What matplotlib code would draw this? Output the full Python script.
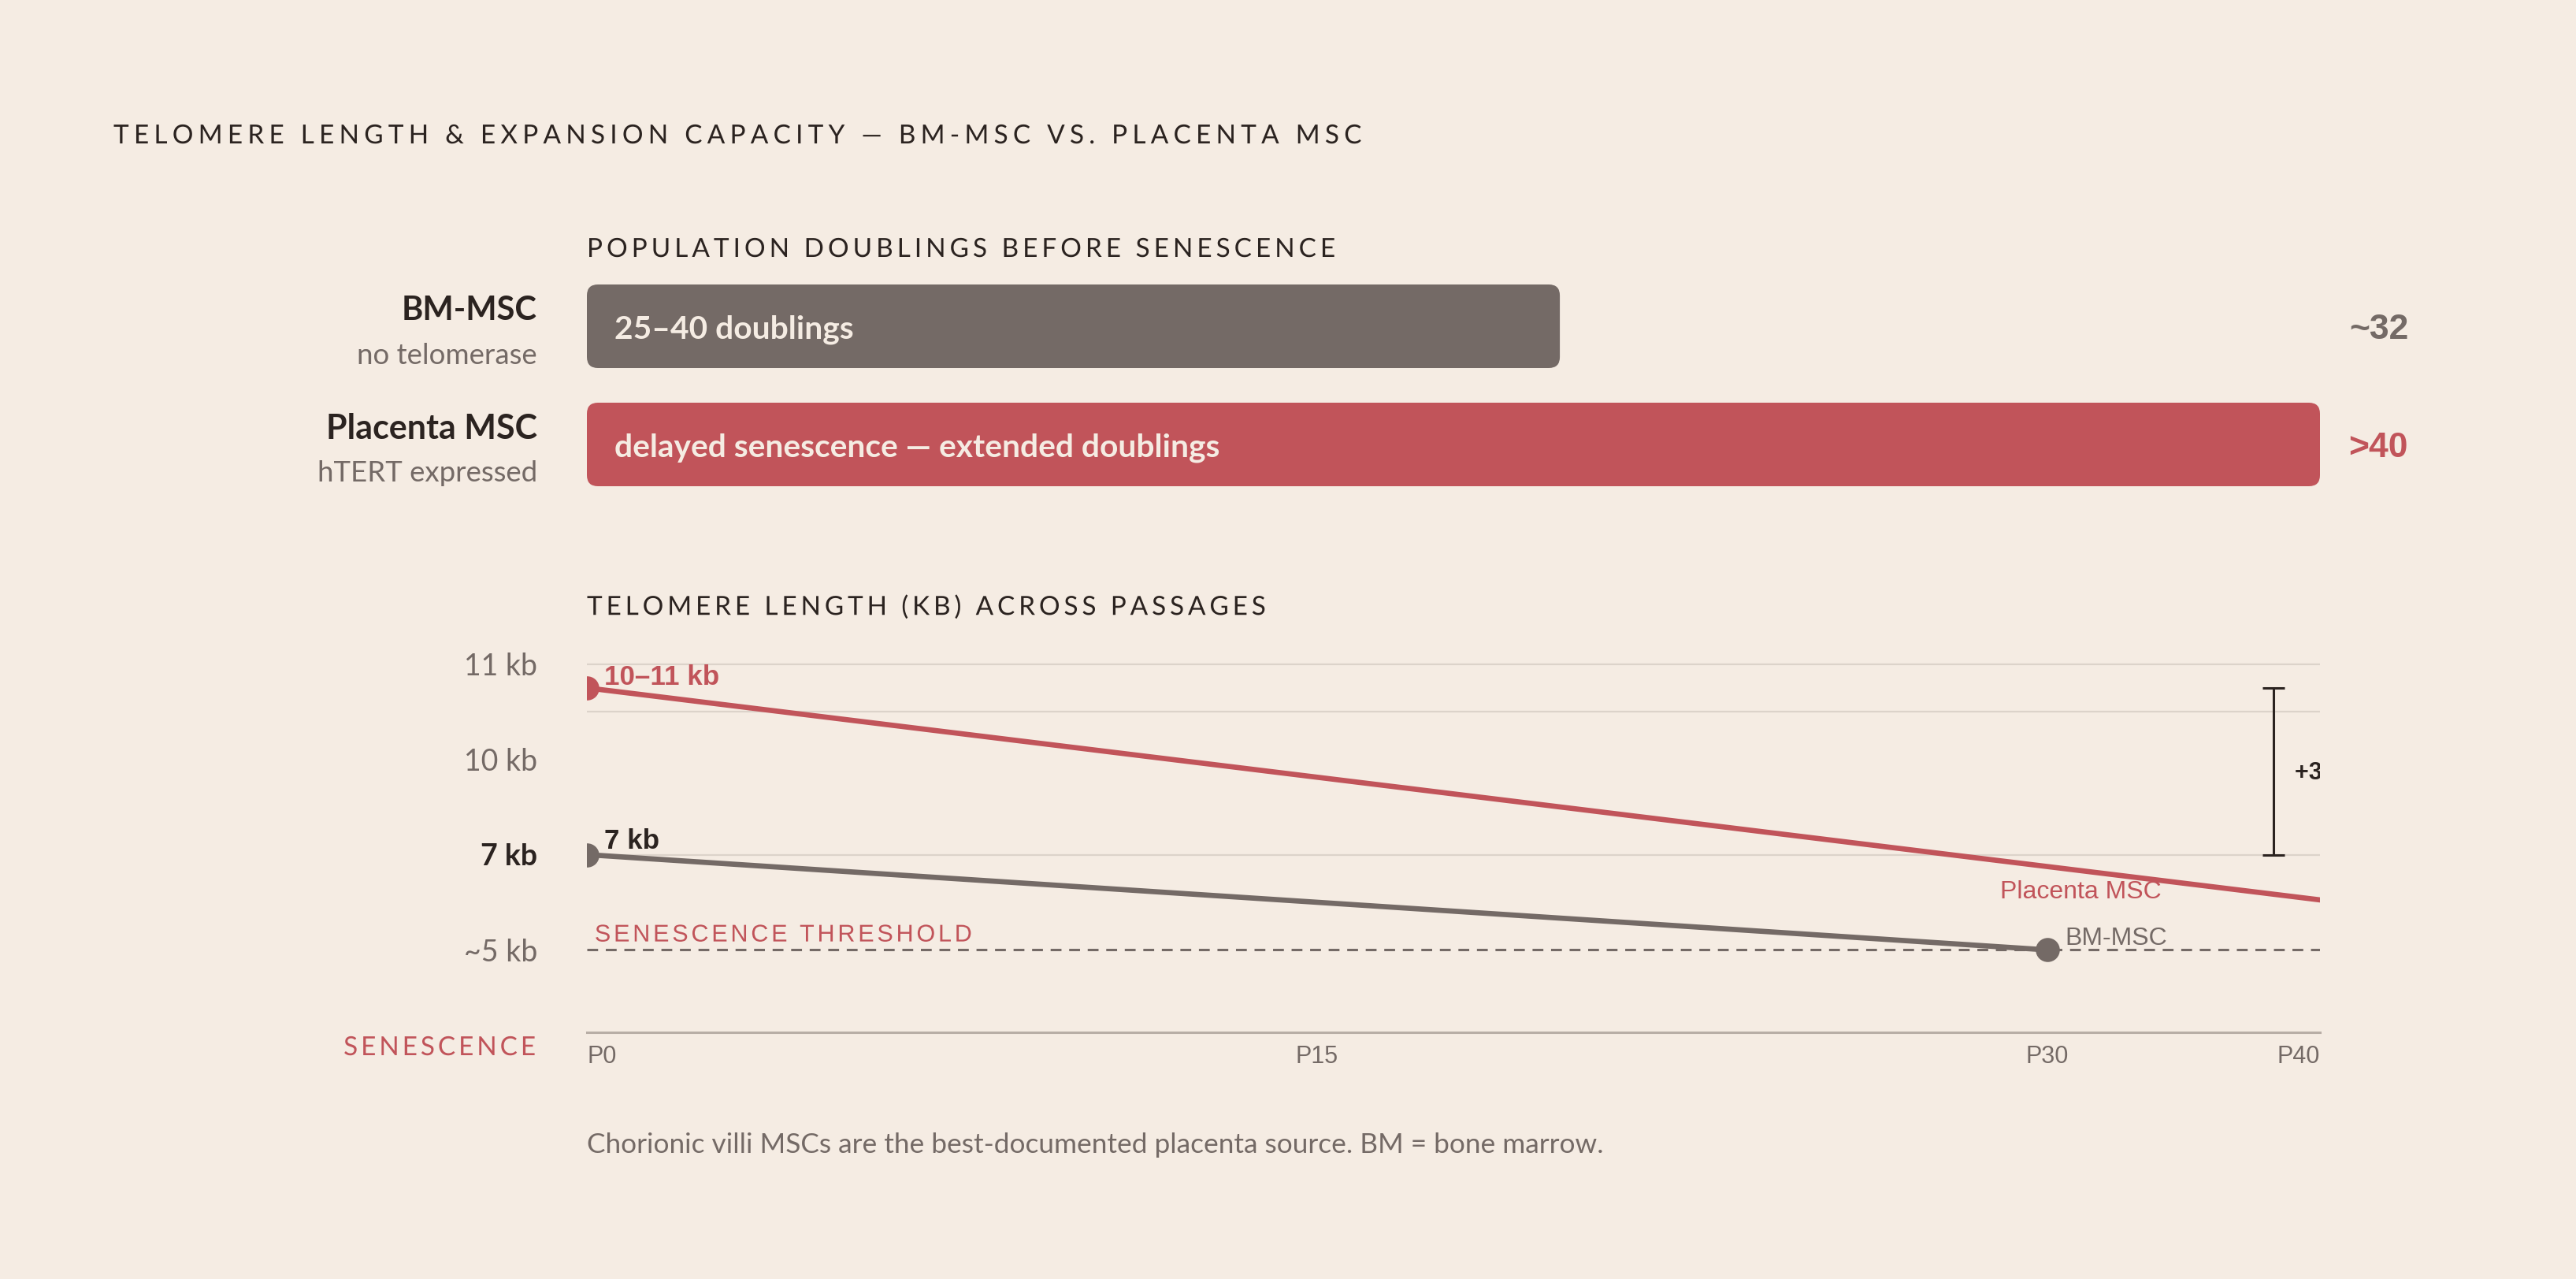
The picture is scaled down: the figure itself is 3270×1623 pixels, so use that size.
import numpy as np
import matplotlib.pyplot as plt
from matplotlib.patches import FancyBboxPatch
from matplotlib.patheffects import AbstractPathEffect
from matplotlib.path import Path
from matplotlib.textpath import text_to_path

# --- data ---
groups = ["BM-MSC", "Placenta MSC"]
group_notes = ["no telomerase", "hTERT expressed"]
doublings = [32, 57]
doubling_text = ["25–40 doublings", "delayed senescence — extended doublings"]
doubling_labels = ["~32", ">40"]

bm_passage = [0, 30]
bm_telomere = [7.0, 5.0]
pl_passage = [0, 40]
pl_telomere = [10.5, 5.5]
threshold_kb = 5.0
grid_kb = [11, 10, 7]
ytick_vals = [11, 9, 7, 5]
ytick_labels = ["11 kb", "10 kb", "7 kb", "~5 kb"]
xtick_vals = [0, 15, 30, 35.6]
xtick_labels = ["P0", "P15", "P30", "P40"]
gap_kb = [7.0, 10.5]

# --- style ---
BG = "#f5ece3"
INK = "#2b2320"
GREY = "#746a66"
RED = "#c1545a"
GRID = "#dcd3ca"
AXIS = "#b8aea6"
ARIAL = "Liberation Sans"

plt.rcParams['font.family'] = ['Lato', 'DejaVu Sans']


class Tracking(AbstractPathEffect):
    """letter-spacing for a single line of text (em units)"""

    def __init__(self, text, prop, em, align='left'):
        super().__init__()
        counts = [len(text_to_path.get_text_path(prop, ch)[1]) for ch in text]
        step = em * text_to_path.FONT_SCALE
        shifts = np.repeat(np.arange(len(text)) * step, counts).astype(float)
        if align == 'right':
            shifts -= (len(text) - 1) * step
        self._shifts = shifts

    def draw_path(self, renderer, gc, tpath, affine, rgbFace=None):
        verts = np.array(tpath.vertices, dtype=float)
        if len(verts) == len(self._shifts):
            verts[:, 0] += self._shifts
        renderer.draw_path(gc, Path(verts, tpath.codes), affine, rgbFace)


def tracked(txt, em, align='left'):
    txt.set_path_effects([Tracking(txt.get_text(), txt.get_fontproperties(), em, align)])
    return txt


W, H, DPI = 3270, 1623, 200
fig = plt.figure(figsize=(W / DPI, H / DPI), dpi=DPI, facecolor=BG)


def fx(px):
    return px / W


def fy(py):
    return 1 - py / H


# titles
tracked(fig.text(fx(144), fy(173), "TELOMERE LENGTH & EXPANSION CAPACITY — BM-MSC VS. PLACENTA MSC",
                 ha='left', va='center', fontsize=12, color=INK), 0.187)
tracked(fig.text(fx(745), fy(317), "POPULATION DOUBLINGS BEFORE SENESCENCE",
                 ha='left', va='center', fontsize=12, color=INK), 0.15)
tracked(fig.text(fx(745), fy(771), "TELOMERE LENGTH (KB) ACROSS PASSAGES",
                 ha='left', va='center', fontsize=12, color=INK), 0.146)
fig.text(fx(745), fy(1453), "Chorionic villi MSCs are the best-documented placenta source. BM = bone marrow.",
         ha='left', va='center', fontsize=12.7, color=GREY)

# --- bar panel ---
bar_h = 0.7067
axb = fig.add_axes([fx(745), fy(617), 2200 / W, 256 / H])
axb.set_xlim(0, max(doublings))
axb.set_ylim(1 + bar_h / 2, -bar_h / 2)
axb.axis('off')

px_per_x = 2200 / max(doublings)
px_per_y = 256 / (1 + bar_h)
r_px = 14
r_x = r_px / px_per_x
aspect = (r_px / px_per_y) / r_x
bar_colors = [GREY, RED]
name_y = [394, 544]
name_size = [15, 15.5]
note_y = [451, 601]
for i, v in enumerate(doublings):
    patch = FancyBboxPatch((0, i - bar_h / 2), v, bar_h,
                           boxstyle=f"round,pad=0,rounding_size={r_x}",
                           mutation_aspect=aspect, fc=bar_colors[i], ec='none')
    axb.add_patch(patch)
    axb.text(0.9, i + 0.027, doubling_text[i], ha='left', va='center', fontsize=14.7,
             fontweight='bold', color=BG)
    fig.text(fx(3057), fy(418 + 150 * i), doubling_labels[i], ha='right', va='center',
             fontsize=16, fontweight='bold', color=bar_colors[i], family=ARIAL)
    fig.text(fx(682), fy(name_y[i]), groups[i], ha='right', va='center',
             fontsize=name_size[i], fontweight='bold', color=INK)
    fig.text(fx(682), fy(note_y[i]), group_notes[i], ha='right', va='center',
             fontsize=13.2, color=GREY)

# --- line panel ---
px_per_kb = 60.45
y_bot = 7 - (1310 - 1084.5) / px_per_kb
y_top = 7 + (1084.5 - 820) / px_per_kb
axl = fig.add_axes([fx(745), fy(1310), 2200 / W, 490 / H])
axl.set_facecolor(BG)
axl.set_xlim(0, xtick_vals[-1])
axl.set_ylim(y_bot, y_top)
for s in ['top', 'right', 'left']:
    axl.spines[s].set_visible(False)
axl.spines['bottom'].set_color(AXIS)
axl.spines['bottom'].set_linewidth(1.1)

for g in grid_kb:
    axl.axhline(g, color=GRID, lw=0.8, zorder=1)

axl.axhline(threshold_kb, color=GREY, lw=1.1, ls=(0, (4.5, 3.2)), zorder=2)
tracked(axl.text(0.16, 5.31, "SENESCENCE THRESHOLD", ha='left', va='center', fontsize=11,
                 color=RED, family=ARIAL), 0.124)

axl.plot(pl_passage, pl_telomere, color=RED, lw=2.4, marker='o', ms=10,
         solid_capstyle='butt', zorder=4)
axl.plot(bm_passage, bm_telomere, color=GREY, lw=2.4, marker='o', ms=10,
         solid_capstyle='butt', zorder=4)

axl.text(0.36, 10.73, "10–11 kb", ha='left', va='center', fontsize=12.6,
         fontweight='bold', color=RED, family=ARIAL)
axl.text(0.36, 7.28, "7 kb", ha='left', va='center', fontsize=12.6,
         fontweight='bold', color=INK, family=ARIAL)
axl.text(32.35, 6.21, "Placenta MSC", ha='right', va='center', fontsize=11.5,
         color=RED, family=ARIAL, zorder=3)
axl.text(30.36, 5.24, "BM-MSC", ha='left', va='center', fontsize=11.5,
         color=GREY, family=ARIAL)

# gap bracket
gx = 34.65
axl.errorbar([gx], [sum(gap_kb) / 2], yerr=[(gap_kb[1] - gap_kb[0]) / 2], fmt='none',
             ecolor=INK, elinewidth=1.1, capsize=5, capthick=1.1, zorder=5)
axl.text(35.08, sum(gap_kb) / 2 - 0.03, "+3.5 kb", ha='left', va='center', fontsize=11,
         fontweight='bold', color=INK, family=ARIAL, clip_on=True)

axl.set_yticks(ytick_vals)
axl.set_yticklabels(ytick_labels)
axl.tick_params(axis='y', length=0, pad=22.7, labelsize=13.5, labelcolor=GREY)
for lab in axl.get_yticklabels():
    if lab.get_text() == "7 kb":
        lab.set_fontweight('bold')
        lab.set_color(INK)
    lab.set_va('center_baseline')

axl.set_xticks(xtick_vals)
axl.set_xticklabels(xtick_labels, family=ARIAL)
axl.tick_params(axis='x', length=0, pad=5.7, labelsize=11, labelcolor=GREY)
xl = axl.get_xticklabels()
xl[0].set_ha('left')
xl[-1].set_ha('right')

tracked(fig.text(fx(680), fy(1330), "SENESCENCE", ha='right', va='center', fontsize=12,
                 color=RED), 0.118, align='right')

fig.savefig("out.png", dpi=DPI, facecolor=BG)
